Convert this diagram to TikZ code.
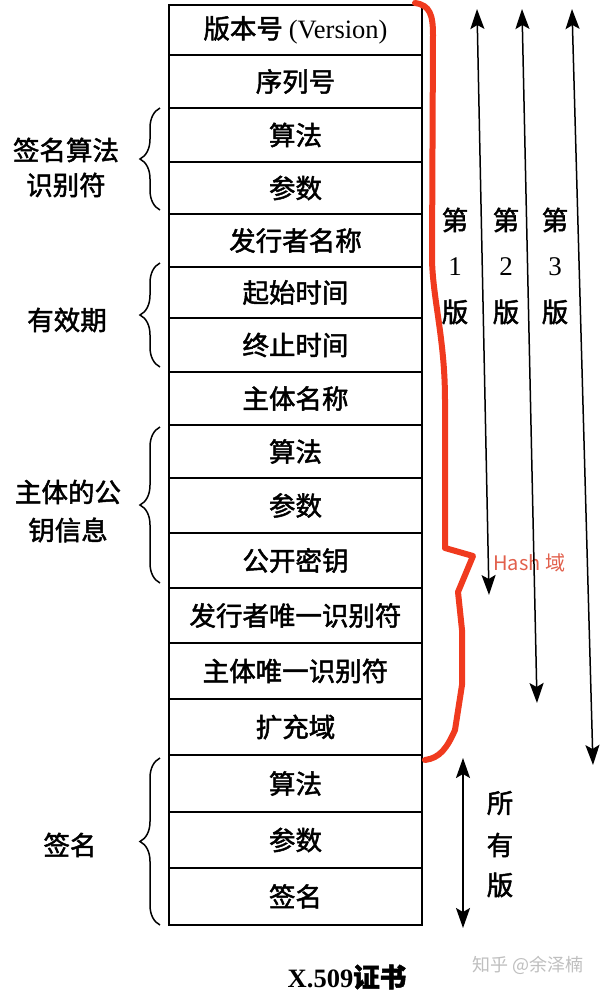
\documentclass[tikz,border=0pt]{standalone}
\usepackage{fontspec}
\setmainfont{Liberation Serif}
\newfontfamily\cjk[FakeBold=1.8]{Noto Sans CJK SC}
\newfontfamily\cjkthin{Noto Sans CJK SC}
\usetikzlibrary{arrows.meta,decorations.pathreplacing}
\definecolor{hashred}{HTML}{F03A1E}
\definecolor{hashtext}{HTML}{E2604C}
\newcommand\certrow[4]{\node[rowbox, minimum height={(#3-#2)*1pt}] (#1) at (295.5,{(#2+#3)/2}) {#4};}
\begin{document}
\begin{tikzpicture}[x=1pt,y=-1pt,
  >={Stealth[length=20pt,width=14pt,inset=4pt]},
  rowbox/.style={draw, line width=1.6pt, minimum width=253pt, inner sep=0pt, font=\cjk\fontsize{26.5}{30}\selectfont},
  lbl/.style={font=\cjk\fontsize{26.5}{30}\selectfont, inner sep=0pt},
  num/.style={font=\fontsize{27}{30}\selectfont, inner sep=0pt},
  brc/.style={decorate, decoration={brace, amplitude=20pt}, line width=1.5pt},
  dbl/.style={<->, line width=1.5pt}]
\fill[white] (0,0) rectangle (600,991);
\useasboundingbox (0,0) rectangle (600,991);

% certificate rows
\certrow{r0}{5}{55}{版本号\ {\rmfamily(Version)}}
\certrow{r1}{55}{108}{序列号}
\certrow{r2}{108}{162}{算法}
\certrow{r3}{162}{214}{参数}
\certrow{r4}{214}{267}{发行者名称}
\certrow{r5}{267}{318}{起始时间}
\certrow{r6}{318}{372}{终止时间}
\certrow{r7}{372}{425}{主体名称}
\certrow{r8}{425}{478}{算法}
\certrow{r9}{478}{533}{参数}
\certrow{r10}{533}{588}{公开密钥}
\certrow{r11}{588}{643}{发行者唯一识别符}
\certrow{r12}{643}{699}{主体唯一识别符}
\certrow{r13}{699}{755}{扩充域}
\certrow{r14}{755}{812}{算法}
\certrow{r15}{812}{868}{参数}
\certrow{r16}{868}{925}{签名}

% left braces
\coordinate (bA1) at (160,210); \coordinate (bA2) at (160,108);
\coordinate (bB1) at (160,367); \coordinate (bB2) at (160,263);
\coordinate (bC1) at (160,583); \coordinate (bC2) at (160,427);
\coordinate (bD1) at (160,925); \coordinate (bD2) at (160,758);
\draw[brc] (bA1) -- (bA2);
\draw[brc] (bB1) -- (bB2);
\draw[brc] (bC1) -- (bC2);
\draw[brc] (bD1) -- (bD2);

% left labels
\node[lbl] (l1a) at (66,150) {签名算法};
\node[lbl] (l1b) at (66,185) {识别符};
\node[lbl] (l2) at (67,320) {有效期};
\node[lbl] (l3a) at (68,492) {主体的公};
\node[lbl] (l3b) at (68,530) {钥信息};
\node[lbl] (l4) at (70,845) {签名};

% red hash brace
\draw[hashred, line width=6pt, line join=round, line cap=round]
  (415,3) .. controls (430,5) and (433,15) .. (433,35) -- (432,260)
  .. controls (433,300) and (445,340) .. (445,400) -- (445,548) -- (473,556)
  -- (458,592) -- (462,630) -- (462,685) -- (455,730)
  .. controls (447,748) and (440,758) .. (425,760);
\node[font=\cjkthin\fontsize{20}{24}\selectfont, text=hashtext, anchor=west, inner sep=0pt] (hash) at (493,563) {Hash 域};

% version arrows
\coordinate (a1t) at (477,9);  \coordinate (a1b) at (489,595);
\coordinate (a2t) at (522,9);  \coordinate (a2b) at (537,703);
\coordinate (a3t) at (572,9);  \coordinate (a3b) at (593,765);
\coordinate (a4t) at (463,758); \coordinate (a4b) at (463,928);
\draw[dbl] (a1t) -- (a1b);
\draw[dbl] (a2t) -- (a2b);
\draw[dbl] (a3t) -- (a3b);
\draw[dbl] (a4t) -- (a4b);

% version labels
\node[lbl] (c1a) at (455,220) {第};
\node[num] (c1b) at (455,267) {1};
\node[lbl] (c1c) at (455,312) {版};
\node[lbl] (c2a) at (506,220) {第};
\node[num] (c2b) at (506,267) {2};
\node[lbl] (c2c) at (506,312) {版};
\node[lbl] (c3a) at (555,220) {第};
\node[num] (c3b) at (555,267) {3};
\node[lbl] (c3c) at (555,312) {版};
\node[lbl] (s1) at (500,803) {所};
\node[lbl] (s2) at (500,845) {有};
\node[lbl] (s3) at (500,885) {版};

% title and watermark
\node[inner sep=0pt] (title) at (347,977) {\fontsize{26.5}{30}\selectfont\bfseries X.509{\cjk 证书}};
\node[text=black!25, font=\cjkthin\fontsize{18}{20}\selectfont, inner sep=0pt] (wm) at (528,965) {知乎 @余泽楠};
\end{tikzpicture}
\end{document}
